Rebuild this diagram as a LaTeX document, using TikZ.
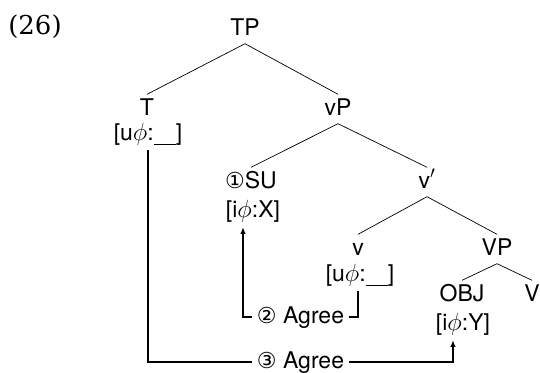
\documentclass[tikz,border=0pt]{standalone}
\usepackage{fontspec}
\setsansfont{TeX Gyre Heros}
\newfontfamily\circfont{DejaVu Sans}
\newfontfamily\numfont{DejaVu Serif}
\usetikzlibrary{arrows.meta}
\newcommand{\blank}{\rule[-0.2em]{22pt}{1pt}}
\newcommand{\circd}[1]{{\circfont\fontsize{22}{24}\selectfont #1}}

\begin{document}
\begin{tikzpicture}[x=1pt,y=-1pt,
  cat/.style={font=\sffamily\fontsize{23}{26}\selectfont,text height=16.5pt,text depth=4.5pt,inner ysep=4pt,inner xsep=1pt},
  feat/.style={cat,text depth=5pt},
  br/.style={line width=0.7pt},
  arr/.style={-{Latex[length=7pt,width=5.5pt]},line width=1.5pt},
  agree/.style={cat,fill=white,inner xsep=5pt}
]
\useasboundingbox (0,0) rectangle (540,372);
\node[font=\numfont\fontsize{26}{30}\selectfont] (ex) at (35,27) {(26)};

\node[cat] (TP) at (245,29) {TP};
\node[cat] (T) at (147,109) {T};
\node[feat] (Tf) at (148,135) {[u$\phi$:\blank]};
\node[cat] (vP) at (338,109) {vP};
\node[cat] (SU) at (251,182) {\circd{①}SU};
\node[feat] (SUf) at (253,212) {[i$\phi$:X]};
\node[cat] (vbar) at (427,182) {v$'$};
\node[cat] (v) at (358,249) {v};
\node[feat] (vf) at (360,276) {[u$\phi$:\blank]};
\node[cat] (VP) at (497,249) {VP};
\node[cat] (OBJ) at (462,295) {OBJ};
\node[feat] (OBJf) at (463,325) {[i$\phi$:Y]};
\node[cat] (V) at (532,295) {V};

\draw[br] (T.north) -- (TP.south) -- (vP.north);
\draw[br] (SU.north) -- (vP.south) -- (vbar.north);
\draw[br] (v.north) -- (vbar.south) -- (VP.north);
\draw[br] (OBJ.north) -- (VP.south) -- (V.north);

\coordinate (low) at (0,362);
\coordinate (mid) at (0,317);
\coordinate (vout) at ([xshift=-2pt]vf.south);
\coordinate (suin) at ([xshift=-10pt]SUf.south);
\coordinate (objin) at ([xshift=-10pt]OBJf.south);

\draw[arr] (vout) -- (vout |- mid)
  -- node[agree]{\circd{②} Agree} (suin |- mid) -- (suin);
\draw[arr] (Tf.south) -- (Tf.south |- low)
  -- node[agree]{\circd{③} Agree} (objin |- low) -- (objin);
\end{tikzpicture}
\end{document}
